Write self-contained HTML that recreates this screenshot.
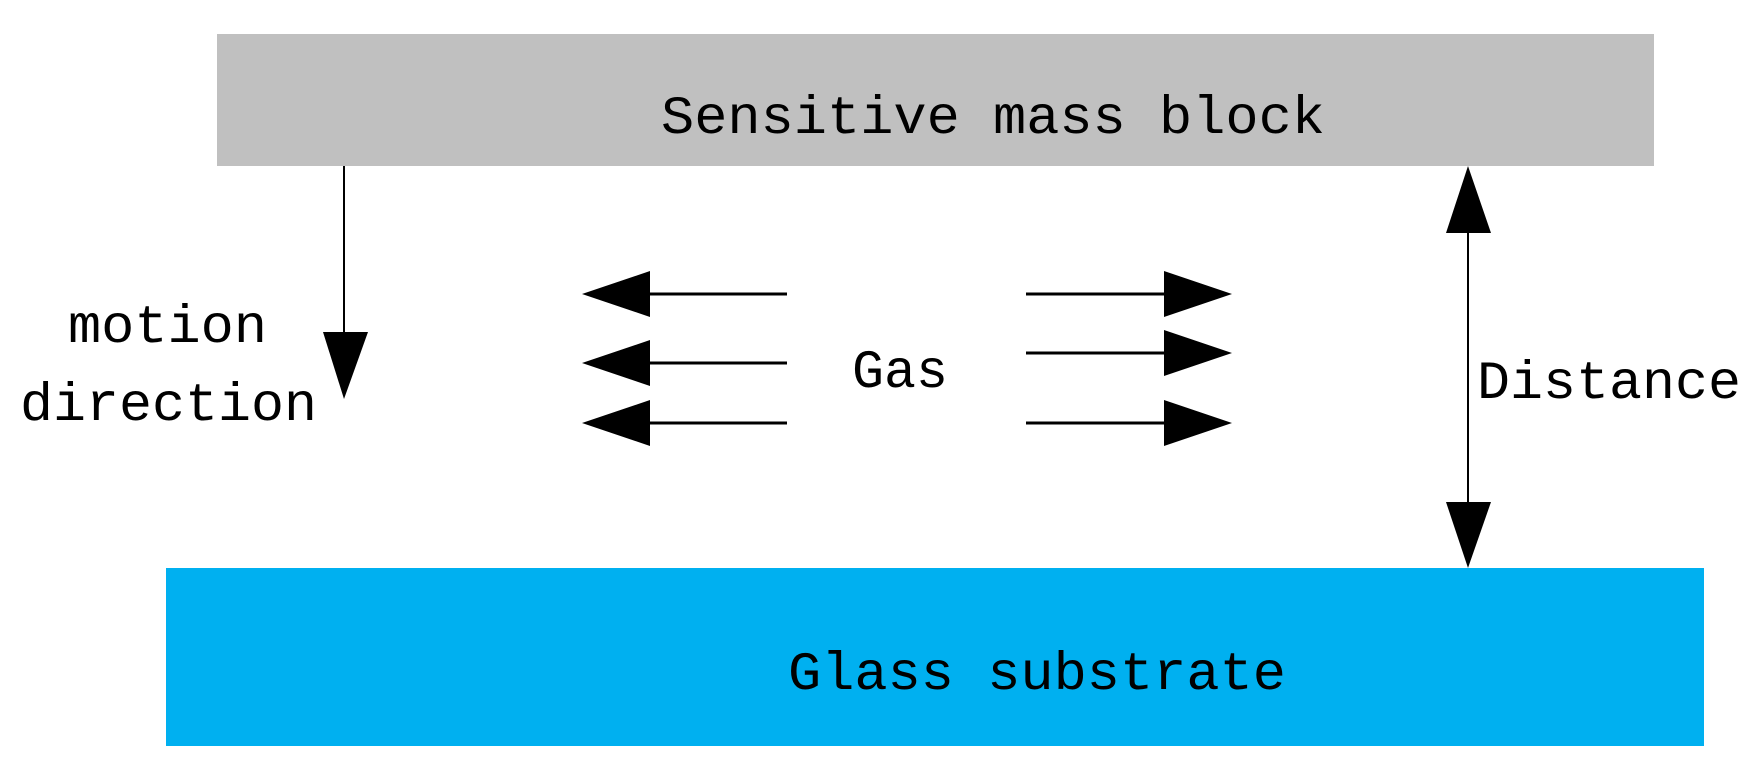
<!DOCTYPE html>
<html><head><style>body{margin:0;background:#fff}svg{display:block}</style></head><body>
<svg width="1755" height="760" viewBox="0 0 1755 760" xmlns="http://www.w3.org/2000/svg">
<rect x="217" y="34" width="1437" height="132" fill="#c0c0c0"/>
<rect x="166" y="568" width="1538" height="178" fill="#00b0f0"/>
<g font-family="Liberation Mono, monospace" fill="#000" font-size="54">
<text x="661" y="133" textLength="664" lengthAdjust="spacingAndGlyphs">Sensitive mass block</text>
<text x="788" y="689" textLength="498" lengthAdjust="spacingAndGlyphs">Glass substrate</text>
<text x="68" y="342" textLength="199" lengthAdjust="spacingAndGlyphs">motion</text>
<text x="20" y="420" textLength="297" lengthAdjust="spacingAndGlyphs">direction</text>
<text x="852" y="387" textLength="96" lengthAdjust="spacingAndGlyphs">Gas</text>
<text x="1477" y="398" textLength="264" lengthAdjust="spacingAndGlyphs">Distance</text>
</g>
<g stroke="#000" fill="none">
<line x1="344" y1="166" x2="344" y2="335" stroke-width="2"/>
<line x1="1468" y1="230" x2="1468" y2="505" stroke-width="2"/>
<line x1="787" y1="294" x2="648" y2="294" stroke-width="3"/>
<line x1="787" y1="363" x2="648" y2="363" stroke-width="3"/>
<line x1="787" y1="423" x2="648" y2="423" stroke-width="3"/>
<line x1="1026" y1="294" x2="1166" y2="294" stroke-width="3"/>
<line x1="1026" y1="353" x2="1166" y2="353" stroke-width="3"/>
<line x1="1026" y1="423" x2="1166" y2="423" stroke-width="3"/>
</g>
<g fill="#000">
<polygon points="323,332 368,332 344,399"/>
<polygon points="1468,166 1446,233 1491,233"/>
<polygon points="1468,568 1446,502 1491,502"/>
<polygon points="582,294 650,271 650,317"/>
<polygon points="582,363 650,340 650,386"/>
<polygon points="582,423 650,400 650,446"/>
<polygon points="1232,294 1164,271 1164,317"/>
<polygon points="1232,353 1164,330 1164,376"/>
<polygon points="1232,423 1164,400 1164,446"/>
</g>
</svg>
</body></html>
